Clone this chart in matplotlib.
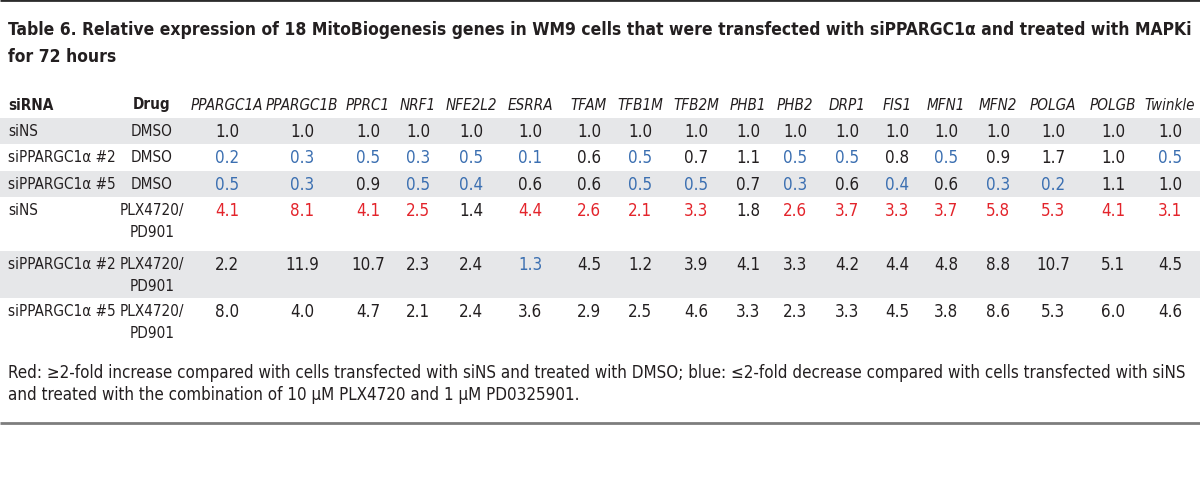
import matplotlib
matplotlib.use("Agg")
import matplotlib.pyplot as plt
from matplotlib import font_manager

# table contents
genes = ["PPARGC1A", "PPARGC1B", "PPRC1", "NRF1", "NFE2L2", "ESRRA", "TFAM", "TFB1M",
         "TFB2M", "PHB1", "PHB2", "DRP1", "FIS1", "MFN1", "MFN2", "POLGA", "POLGB", "Twinkle"]
sirna = ["siNS", "siPPARGC1\u03b1 #2", "siPPARGC1\u03b1 #5", "siNS", "siPPARGC1\u03b1 #2", "siPPARGC1\u03b1 #5"]
drug = ["DMSO", "DMSO", "DMSO", "PLX4720/\nPD901", "PLX4720/\nPD901", "PLX4720/\nPD901"]
values = [
    [1.0, 1.0, 1.0, 1.0, 1.0, 1.0, 1.0, 1.0, 1.0, 1.0, 1.0, 1.0, 1.0, 1.0, 1.0, 1.0, 1.0, 1.0],
    [0.2, 0.3, 0.5, 0.3, 0.5, 0.1, 0.6, 0.5, 0.7, 1.1, 0.5, 0.5, 0.8, 0.5, 0.9, 1.7, 1.0, 0.5],
    [0.5, 0.3, 0.9, 0.5, 0.4, 0.6, 0.6, 0.5, 0.5, 0.7, 0.3, 0.6, 0.4, 0.6, 0.3, 0.2, 1.1, 1.0],
    [4.1, 8.1, 4.1, 2.5, 1.4, 4.4, 2.6, 2.1, 3.3, 1.8, 2.6, 3.7, 3.3, 3.7, 5.8, 5.3, 4.1, 3.1],
    [2.2, 11.9, 10.7, 2.3, 2.4, 1.3, 4.5, 1.2, 3.9, 4.1, 3.3, 4.2, 4.4, 4.8, 8.8, 10.7, 5.1, 4.5],
    [8.0, 4.0, 4.7, 2.1, 2.4, 3.6, 2.9, 2.5, 4.6, 3.3, 2.3, 3.3, 4.5, 3.8, 8.6, 5.3, 6.0, 4.6],
]
# r = >=2-fold up (red), b = <=2-fold down (blue), . = unchanged
flags = [
    "..................",
    "bbbbbb.b..bb.b...b",
    "bb.bb..bb.b.b.bb..",
    "rrrr.rrrr.rrrrrrrr",
    ".....b............",
    "..................",
]
title = ["Table 6. Relative expression of 18 MitoBiogenesis genes in WM9 cells that were "
         "transfected with siPPARGC1\u03b1 and treated with MAPKi", "for 72 hours"]
footnote = ["Red: \u22652-fold increase compared with cells transfected with siNS and treated with "
            "DMSO; blue: \u22642-fold decrease compared with cells transfected with siNS",
            "and treated with the combination of 10 \u03bcM PLX4720 and 1 \u03bcM PD0325901."]

INK = "#231f20"
RED = "#e3242b"
BLUE = "#3b6fb1"
GREY = "#e6e7e9"
FLAG_COLOR = {".": INK, "r": RED, "b": BLUE}

# pick a narrow font if one is there
names = {f.name for f in font_manager.fontManager.ttflist}
if "Liberation Sans Narrow" in names:
    BODY = dict(family="Liberation Sans Narrow")
else:
    BODY = dict(family="DejaVu Sans", stretch="condensed")

fig = plt.figure(figsize=(12, 4.85), dpi=100)
ax = fig.add_axes([0, 0, 1, 1])
ax.set_xlim(0, 1200)
ax.set_ylim(485, 0)
ax.axis("off")


def fit_size(s, width, **kw):
    # font size at which s spans the given pixel width
    t = ax.text(0, 0, s, fontsize=10, **kw)
    w = t.get_window_extent(fig.canvas.get_renderer()).width
    t.remove()
    return 10 * width / w


# rules
ax.plot([0, 1200], [1, 1], color="#2b2b2b", lw=2, solid_capstyle="butt")
ax.plot([0, 1200], [424, 424], color="#7d7d7d", lw=2, solid_capstyle="butt")

# title
fs_title = fit_size(title[0], 1180, fontweight="bold", **BODY)
ax.text(8, 30, title[0], color=INK, fontsize=fs_title, fontweight="bold", va="center", **BODY)
ax.text(8, 57, title[1], color=INK, fontsize=fs_title, fontweight="bold", va="center", **BODY)

# column positions
col_x = [227, 302, 368, 418, 471, 530, 589, 640, 696, 748, 795, 847, 897, 946, 998, 1053, 1113, 1170]
drug_x = 152
row_top = [119, 145, 172, 198, 252, 299]
row_bot = [145, 172, 198, 252, 299, 350]
head_y = 105

fs_note = fit_size(footnote[0], 1182, **BODY)
fs_sirna = min(fit_size(sirna[1], 108, **BODY), fs_note)
fs_gene = fit_size(genes[0], 72, fontstyle="italic", **BODY)

ax.text(8, head_y, "siRNA", color=INK, fontsize=fs_sirna, fontweight="bold", va="center", **BODY)
ax.text(drug_x, head_y, "Drug", color=INK, fontsize=fs_sirna, fontweight="bold", va="center", ha="center", **BODY)
for x, g in zip(col_x, genes):
    ax.text(x, head_y, g, color=INK, fontsize=fs_gene, fontstyle="italic",
            va="center", ha="center", **BODY)

for i in range(len(sirna)):
    top, bot = row_top[i], row_bot[i]
    if i % 2 == 0:
        ax.axhspan(bot, top, color=GREY, lw=0, zorder=0)
    y = top + 13
    ax.text(8, y, sirna[i], color=INK, fontsize=fs_sirna, va="center", **BODY)
    for k, line in enumerate(drug[i].split("\n")):
        ax.text(drug_x, y + 22 * k, line, color=INK, fontsize=fs_sirna, va="center", ha="center", **BODY)
    for j, v in enumerate(values[i]):
        ax.text(col_x[j], y, f"{v:.1f}", color=FLAG_COLOR[flags[i][j]], fontsize=fs_note,
                va="center", ha="center", **BODY)

# footnote
ax.text(8, 373, footnote[0], color=INK, fontsize=fs_note, va="center", **BODY)
ax.text(8, 395, footnote[1], color=INK, fontsize=fs_note, va="center", **BODY)

fig.savefig("out.png", dpi=100)
